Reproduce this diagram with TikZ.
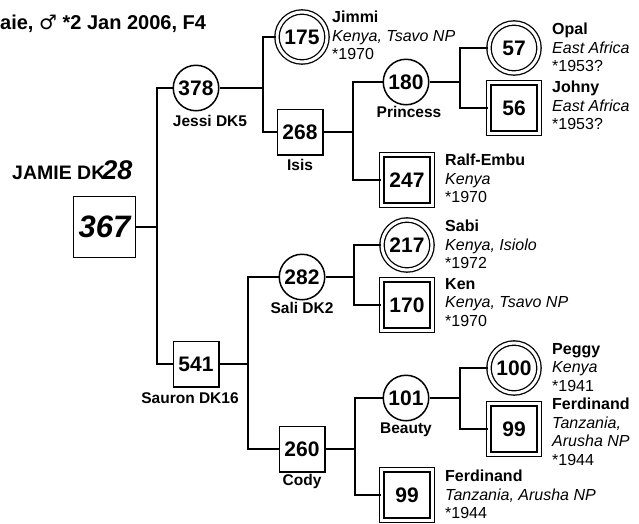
\documentclass[tikz,border=0pt]{standalone}
\usepackage{fontspec}
\setmainfont{Liberation Sans}
\newfontfamily\symfont{DejaVu Sans}
\usetikzlibrary{positioning}

\begin{document}
\begin{tikzpicture}[
      x=1pt, y=-1pt,
      every node/.style={align=center},
      female/.style={draw, circle, line width=1.5pt, minimum size=45.5pt, inner sep=0pt, font=\fontsize{21}{21}\selectfont\bfseries},
      male/.style={draw, rectangle, line width=1.5pt, minimum size=45.5pt, inner sep=0pt, font=\fontsize{21}{21}\selectfont\bfseries},
      wildf/.style={female, line width=1.3pt, double, double distance=3pt, minimum size=50pt},
      wildm/.style={male, line width=1.3pt, double, double distance=3pt, minimum size=50.4pt},
      tag/.style={inner sep=0pt, font=\fontsize{15.5}{15.5}\selectfont\bfseries},
      info/.style={anchor=north west, align=left, inner sep=0pt, font=\fontsize{16}{18.5}\selectfont},
      link/.style={line width=1.8pt}
    ]
      \useasboundingbox (0,0) rectangle (639,523);

      % header and proband
      \node[anchor=base west, inner sep=0pt, font=\fontsize{20}{20}\selectfont\bfseries] (title) at (0,29) {aie, {\symfont ♂} *2 Jan 2006, F4};
      \node[anchor=base west, inner sep=0pt, font=\fontsize{19.5}{19.5}\selectfont\bfseries] (jamietag) at (12,179) {JAMIE DK\kern-3pt{\fontsize{27}{27}\selectfont\itshape 28}};
      \node[male, line width=1.3pt, minimum width=62pt, minimum height=61pt, font=\fontsize{31}{31}\selectfont\bfseries\itshape] (jamie) at (104.5,227) {367};

      % parents
      \node[female] (jessi) at (196,88) {378};
      \node[male] (sauron) at (196,364) {541};
      \node[tag, below=3.5pt of jessi, xshift=14pt] {Jessi DK5};
      \node[tag, below=5pt of sauron, xshift=-6pt] {Sauron DK16};

      % grandparents
      \node[wildf] (jimmi) at (302,37) {175};
      \node[male] (isis) at (300,132) {268};
      \node[female] (sali) at (302,277) {282};
      \node[male] (cody) at (302,449) {260};
      \node[tag, below=4pt of isis] {Isis};
      \node[tag, below=2pt of sali] {Sali DK2};
      \node[tag, below=1.5pt of cody] {Cody};

      % great-grandparents
      \node[female] (princess) at (406,82) {180};
      \node[wildm] (ralf) at (407,180) {247};
      \node[wildf] (sabi) at (407,245) {217};
      \node[wildm] (ken) at (407,305) {170};
      \node[female] (beauty) at (406,398) {101};
      \node[wildm] (ferdB) at (407,495) {99};
      \node[tag, below=1pt of princess, xshift=3pt] {Princess};
      \node[tag, below=1.5pt of beauty] {Beauty};

      % great-great-grandparents
      \node[wildf] (opal) at (514,48) {57};
      \node[wildm] (johny) at (514,108) {56};
      \node[wildf] (peggy) at (514,368) {100};
      \node[wildm] (ferdA) at (514,429) {99};

      % wild-born details
      \node[info] at (332,11) {\textbf{Jimmi}\\\textit{Kenya, Tsavo NP}\\*1970};
      \node[info] at (552,23) {\textbf{Opal}\\\textit{East Africa}\\*1953?};
      \node[info] at (552,81) {\textbf{Johny}\\\textit{East Africa}\\*1953?};
      \node[info] at (445,154) {\textbf{Ralf-Embu}\\\textit{Kenya}\\*1970};
      \node[info] at (445,220) {\textbf{Sabi}\\\textit{Kenya, Isiolo}\\*1972};
      \node[info] at (445,278) {\textbf{Ken}\\\textit{Kenya, Tsavo NP}\\*1970};
      \node[info] at (552,343) {\textbf{Peggy}\\\textit{Kenya}\\*1941};
      \node[info] at (552,398) {\textbf{Ferdinand}\\\textit{Tanzania,}\\\textit{Arusha NP}\\*1944};
      \node[info] at (445,470) {\textbf{Ferdinand}\\\textit{Tanzania, Arusha NP}\\*1944};

      % pedigree lines
      \coordinate (b0) at (157,227);
      \coordinate (b1) at (263,88);
      \coordinate (b2) at (353,132);
      \coordinate (b3) at (460,82);
      \coordinate (b4) at (248,364);
      \coordinate (b5) at (354,277);
      \coordinate (b6) at (355,449);
      \coordinate (b7) at (460,398);

      \draw[link] (jamie) -- (b0);
      \draw[link] (jessi) -| (b0) |- (sauron);
      \draw[link] (jessi) -- (b1);
      \draw[link] (jimmi) -| (b1) |- (isis);
      \draw[link] (isis) -- (b2);
      \draw[link] (princess) -| (b2) |- (ralf);
      \draw[link] (princess) -- (b3);
      \draw[link] (opal) -| (b3) |- (johny);
      \draw[link] (sauron) -- (b4);
      \draw[link] (sali) -| (b4) |- (cody);
      \draw[link] (sali) -- (b5);
      \draw[link] (sabi) -| (b5) |- (ken);
      \draw[link] (cody) -- (b6);
      \draw[link] (beauty) -| (b6) |- (ferdB);
      \draw[link] (beauty) -- (b7);
      \draw[link] (peggy) -| (b7) |- (ferdA);

    \end{tikzpicture}
\end{document}
